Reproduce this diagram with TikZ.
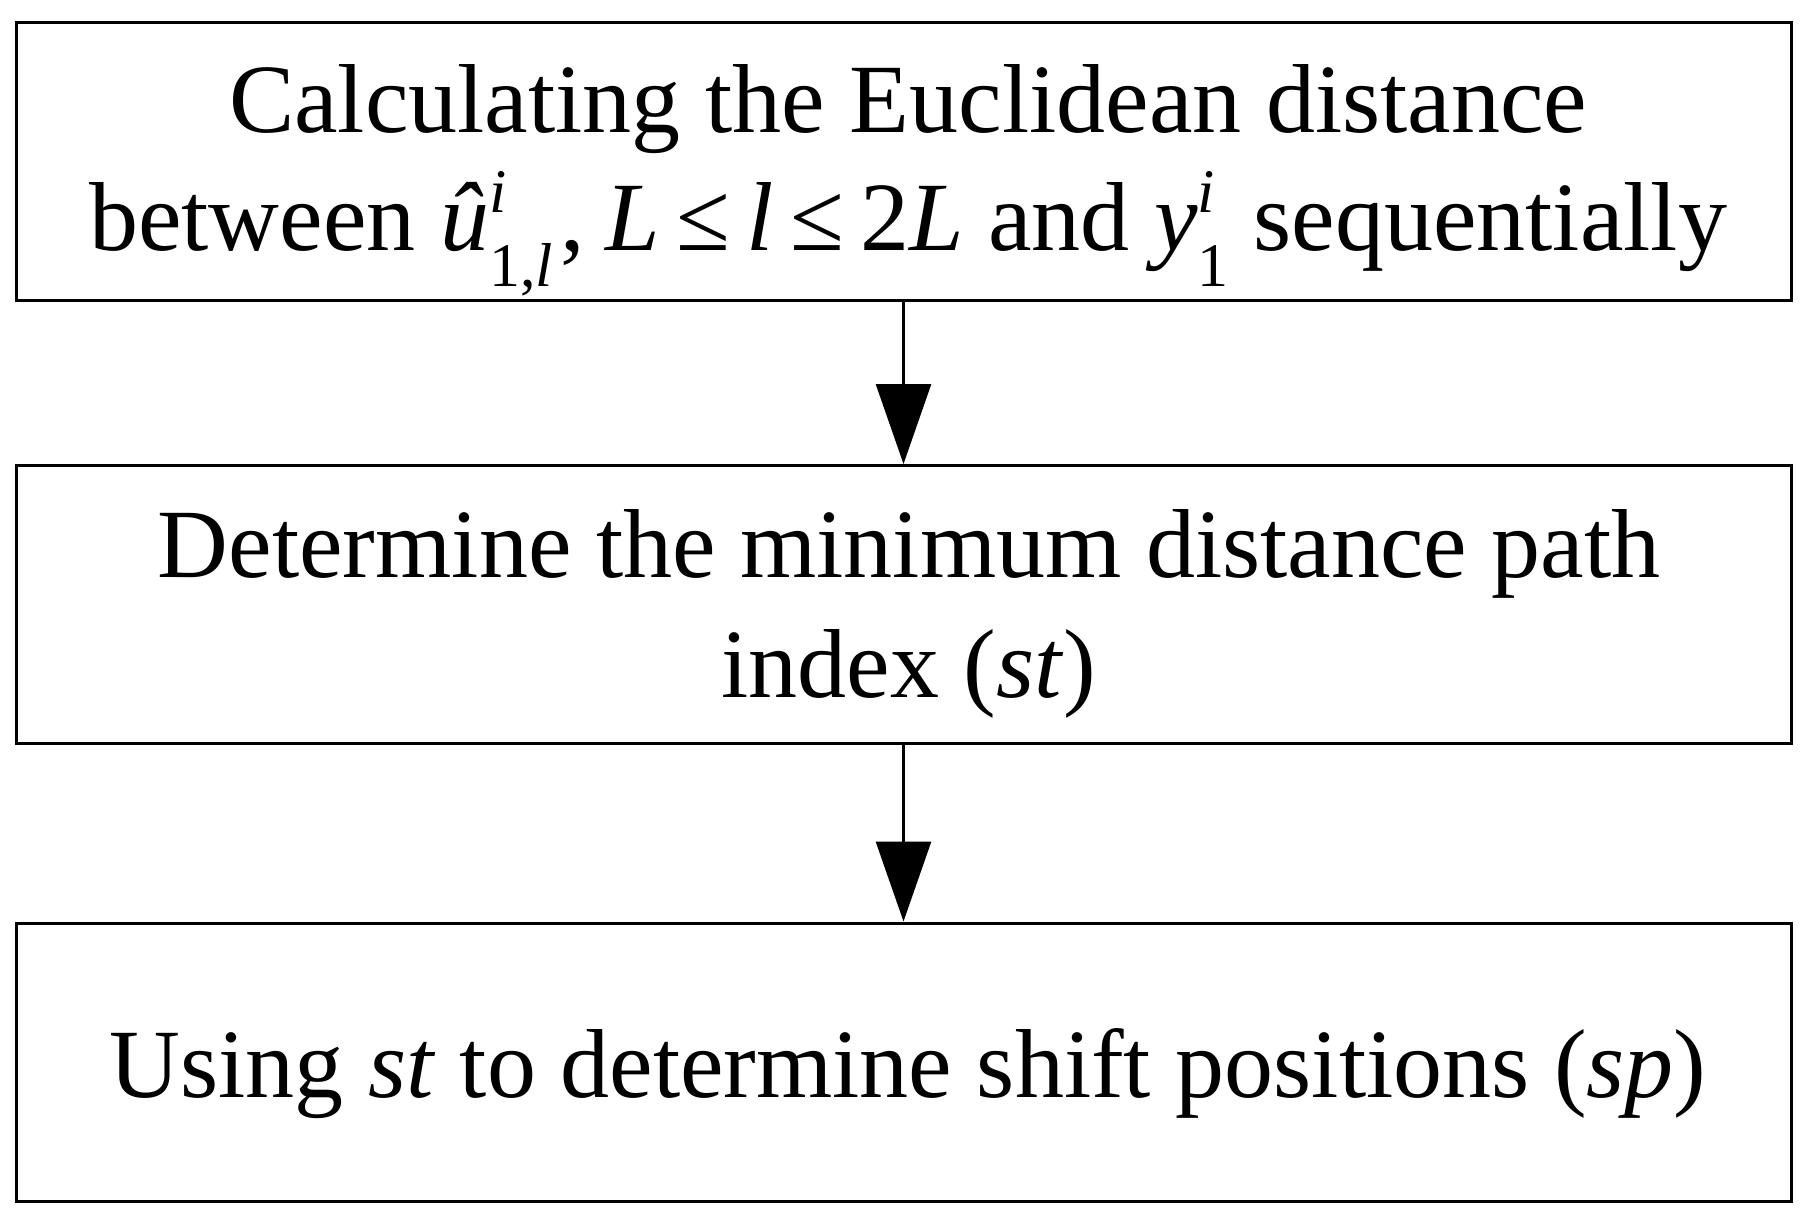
\documentclass[tikz,border=0pt]{standalone}
\usepackage{fontspec}
\setmainfont{Liberation Serif}
\usetikzlibrary{arrows.meta}
\newcommand{\idx}[2]{\rlap{\raisebox{19pt}{\fontsize{31}{31}\selectfont #1}}\raisebox{-18pt}{\fontsize{31}{31}\selectfont #2}}

\begin{document}
\begin{tikzpicture}[x=0.5pt,y=-0.5pt,
  box/.style={draw,line width=1.5pt,minimum width=887.5pt,minimum height=139pt,inner sep=0pt},
  txt/.style={anchor=base,inner sep=0pt,font=\fontsize{49}{59}\selectfont},
  flow/.style={line width=1.4pt,-{Triangle[width=27.5pt,length=40pt]}}]
\useasboundingbox (0,0) rectangle (1809,1215);
\node[box] (calc) at (903.5,161) {};
\node[box] (mindist) at (903.5,604.5) {};
\node[box] (shift) at (903.5,1062) {};
\node[txt] (calcA) at (908,132) {Calculating the Euclidean distance};
\node[txt] (calcB) at (908,250) {between \textit{û}\idx{\textit{i}}{1,\textit{l}}\kern4pt,\kern-2pt{} \textit{L}\,≤\,\textit{l}\,≤\,2\textit{L} and \textit{y}\idx{\textit{i}}{1} sequentially};
\node[txt] (mindistA) at (909,577) {Determine the minimum distance path};
\node[txt] (mindistB) at (909,697) {index (\textit{st})};
\node[txt] (shiftA) at (908,1097) {Using \textit{st} to determine shift positions (\textit{sp})};
\draw[flow] (calc) -- (mindist);
\draw[flow] (mindist) -- (shift);
\end{tikzpicture}
\end{document}
